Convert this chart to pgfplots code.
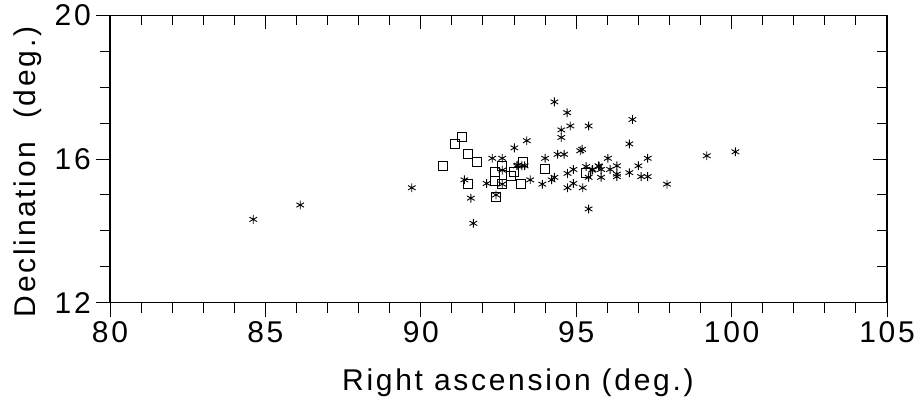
\documentclass[border=0pt]{standalone}
\usepackage{fontspec}
\setmainfont{Liberation Sans}[LetterSpace=9]
\usepackage{pgfplots}
\usepackage{pgfplotstable}
\pgfplotsset{compat=1.18}
\pgfplotstableread{
x y
84.61 14.32
86.12 14.72
89.71 15.20
91.40 15.42
91.61 14.91
91.69 14.21
92.12 15.32
92.30 16.02
92.62 16.02
92.62 15.69
92.62 15.30
92.42 15.00
93.01 16.31
93.12 15.83
93.41 16.51
93.09 15.81
93.25 15.81
93.34 15.81
93.52 15.42
93.91 15.30
94.00 16.02
94.21 15.42
94.30 15.49
94.30 17.59
94.71 17.29
94.81 16.92
94.52 16.81
94.52 16.60
94.40 16.13
94.61 16.13
95.13 16.23
95.19 16.27
95.40 16.92
94.72 15.60
94.91 15.71
94.72 15.20
94.91 15.32
95.21 15.20
95.32 15.79
95.40 15.49
95.51 15.69
95.74 15.79
95.40 14.61
95.53 15.71
95.80 15.71
95.72 15.81
95.80 15.49
96.02 16.02
96.09 15.71
96.31 15.81
96.31 15.58
96.31 15.51
96.71 16.42
96.81 17.10
96.71 15.62
97.00 15.81
97.30 16.02
97.09 15.51
97.30 15.51
97.92 15.30
99.20 16.09
100.12 16.20
}\stars
\pgfplotstableread{
x y
91.32 16.62
91.11 16.42
91.51 16.13
91.82 15.92
90.71 15.81
91.51 15.30
92.62 15.81
92.39 15.63
92.39 15.40
92.62 15.30
92.90 15.53
93.01 15.63
92.42 14.93
93.30 15.93
93.22 15.30
94.00 15.71
95.30 15.60
}\squares
\begin{document}
\begin{tikzpicture}
\path[use as bounding box] (0,0) rectangle (923pt,400pt);
\pgfplotsset{
  common/.style={
    at={(110pt,97.3pt)}, anchor=south west,
    scale only axis, width=777pt, height=287.4pt,
    xmin=80, xmax=105, ymin=12, ymax=20,
    xtick={80,85,...,105}, ytick={12,16,20},
    minor x tick num=4, minor y tick num=3,
    major tick length=14pt, minor tick length=10pt,
    axis line style={line width=1.1pt},
    every tick/.style={black, line width=1pt},
    font=\fontsize{30}{36}\selectfont,
    /pgf/number format/assume math mode=true,
  }
}
\begin{axis}[common,
    tick pos=left, tick align=outside,
    xticklabel style={inner sep=0pt, yshift=-5pt},
    yticklabel style={inner sep=0pt, xshift=-5pt},
    xlabel={Right ascension (deg.)},
    ylabel={Declination\hspace{12pt} (deg.)},
    xlabel style={at={(axis description cs:0.525,0)}, anchor=north, inner sep=0pt, yshift=-66pt},
    ylabel style={at={(axis description cs:0,0.455)}, anchor=center, inner sep=0pt, yshift=82pt},
  ]
  \addplot[only marks, mark=asterisk, mark size=4.4pt, mark options={line width=0.9pt, black}] table[x=x,y=y] {\stars};
  \addplot[only marks, mark=square, mark size=4.5pt, mark options={line width=0.9pt, black}] table[x=x,y=y] {\squares};
\end{axis}
\begin{axis}[common,
    tick pos=right, tick align=inside,
    xticklabels={}, yticklabels={},
  ]
\end{axis}
\end{tikzpicture}
\end{document}
